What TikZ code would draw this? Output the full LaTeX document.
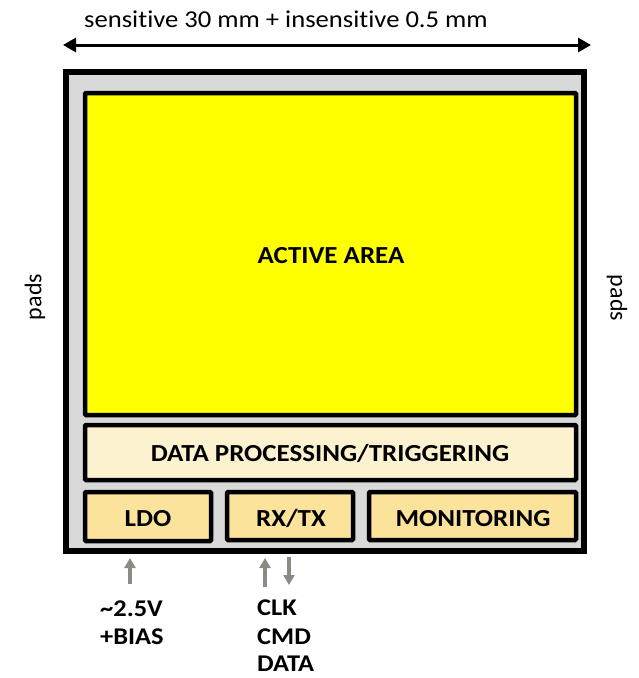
\documentclass[tikz,border=0pt]{standalone}
\usepackage{fontspec}
\setmainfont{Carlito}[Ligatures={NoCommon}]
\usetikzlibrary{arrows.meta}
\definecolor{chipgray}{HTML}{D9D9D9}
\definecolor{activeyellow}{HTML}{FFFF00}
\definecolor{dpcream}{HTML}{FDF2D0}
\definecolor{blockbeige}{HTML}{FBE39C}
\definecolor{arrowgray}{HTML}{8A8C84}
\begin{document}
\begin{tikzpicture}[x=1pt,y=-1pt,
  chip/.style={draw=black,line width=5.5pt,fill=chipgray},
  blockbox/.style={draw=black,line width=4.5pt,rounded corners=1pt},
  lbl/.style={font=\bfseries\fontsize{24.5}{28}\selectfont,text=black,xscale=1.1,anchor=base,inner sep=0pt},
  sig/.style={font=\bfseries\fontsize{24}{28}\selectfont,text=black,xscale=1.1,anchor=base west,inner sep=0pt},
  garrow/.style={draw=arrowgray,line width=3.5pt,-{Triangle[length=10pt,width=11pt]}},
  dimarrow/.style={draw=black,line width=3pt,{Triangle[length=13pt,width=14pt]}-{Triangle[length=13pt,width=14pt]}}
]
\useasboundingbox (0,0) rectangle (639,678);
\draw[chip] (66,72) rectangle (584,551);
\draw[blockbox,fill=activeyellow] (85,93) rectangle (576,415);
\draw[blockbox,fill=dpcream] (85,425) rectangle (576,480);
\draw[blockbox,fill=blockbeige] (85,492) rectangle (211,541);
\draw[blockbox,fill=blockbeige] (227,492) rectangle (353,540);
\draw[blockbox,fill=blockbeige] (369,492) rectangle (576,540);
\node[lbl] (act) at (331,263) {ACTIVE AREA};
\node[lbl] (dp) at (330,461) {DATA PROCESSING/TRIGGERING};
\node[lbl] (ldo) at (148,526) {LDO};
\node[lbl] (rx) at (291,526) {RX/TX};
\node[lbl] (mon) at (473,526) {MONITORING};
\coordinate (dl) at (63,45);
\coordinate (dr) at (591,45);
\draw[dimarrow] (dl) -- (dr);
\node[font=\fontsize{24.2}{28}\selectfont,xscale=1.1,anchor=base,inner sep=0pt] (dimtxt) at (286,27) {sensitive 30 mm + insensitive 0.5 mm};
\node[rotate=90,font=\fontsize{24}{28}\selectfont] (padl) at (35,297) {pads};
\node[rotate=-90,font=\fontsize{24}{28}\selectfont] (padr) at (617,298) {pads};
\coordinate (a1s) at (130,584);
\coordinate (a1e) at (130,558);
\coordinate (a2s) at (265,587);
\coordinate (a2e) at (265,558);
\coordinate (a3s) at (289,557);
\coordinate (a3e) at (289,585);
\draw[garrow] (a1s) -- (a1e);
\draw[garrow] (a2s) -- (a2e);
\draw[garrow] (a3s) -- (a3e);
\node[sig] (v25) at (100,616) {\textasciitilde2.5V};
\node[sig] (bias) at (100,644) {+BIAS};
\node[sig] (clk) at (257,615) {CLK};
\node[sig] (cmd) at (257,644) {CMD};
\node[sig] (data) at (257,671) {DATA};
\end{tikzpicture}
\end{document}
